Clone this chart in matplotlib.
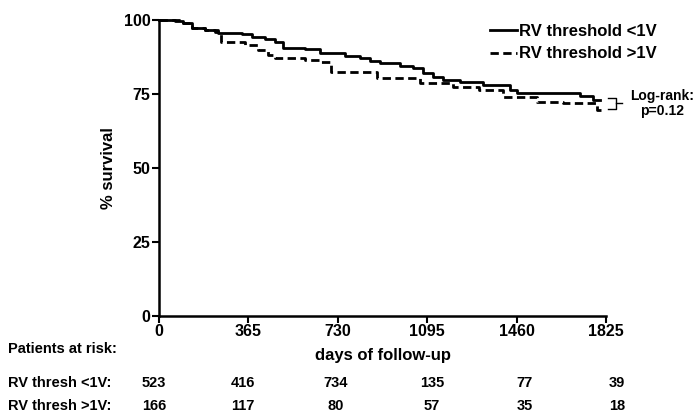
import matplotlib
matplotlib.use('Agg')
import matplotlib.pyplot as plt

plt.rcParams['font.family'] = ['Liberation Sans Narrow', 'Liberation Sans', 'DejaVu Sans']
plt.rcParams['font.weight'] = 'bold'

# Kaplan-Meier steps (day, % survival)
days_lt1 = [0, 65, 98, 135, 188, 241, 339, 380, 433, 474, 506, 596, 657, 759, 821, 862,
            902, 984, 1037, 1078, 1119, 1160, 1229, 1323, 1433, 1462, 1719, 1772, 1800]
surv_lt1 = [100, 99.8, 99, 97.3, 96.5, 95.7, 95.3, 94.4, 93.5, 92.7, 90.5, 90.2, 88.9, 88, 87.2, 86.3,
            85.5, 84.6, 83.8, 82, 80.8, 79.7, 79, 78, 76.4, 75.3, 74.3, 73, 73]
days_gt1 = [0, 98, 135, 188, 229, 253, 351, 404, 445, 474, 596, 657, 702, 890, 1066,
            1200, 1307, 1405, 1543, 1650, 1788, 1805]
surv_gt1 = [100, 99, 97.3, 96.5, 96, 92.7, 91.6, 89.9, 88.2, 87.2, 86.5, 85.8, 82.4, 80.4, 78.7,
            77.4, 76.4, 74, 72.3, 72, 69.6, 69.6]

xticks = [0, 365, 730, 1095, 1460, 1825]
yticks = [0, 25, 50, 75, 100]
risk_lt1 = [523, 416, 734, 135, 77, 39]
risk_gt1 = [166, 117, 80, 57, 35, 18]
risk_x = [-20, 343, 722, 1115, 1494, 1870]

fig = plt.figure(figsize=(6.98, 4.12), dpi=100)
ax = fig.add_axes([0.2278, 0.233, 0.6404, 0.7185])

ax.plot(days_lt1, surv_lt1, drawstyle='steps-post', color='black', lw=2, clip_on=False,
        label='RV threshold <1V')
ax.plot(days_gt1, surv_gt1, drawstyle='steps-post', color='black', lw=2, ls=(0, (3, 1.6)),
        clip_on=False, label='RV threshold >1V')

ax.set_xlim(0, 1825)
ax.set_ylim(0, 100)
ax.set_xticks(xticks)
ax.set_yticks(yticks)
for s in ['top', 'right']:
    ax.spines[s].set_visible(False)
for s in ['left', 'bottom']:
    ax.spines[s].set_linewidth(1.8)
ax.tick_params(direction='out', length=5, width=1.5, labelsize=11.5, pad=1)
for lab in ax.get_xticklabels() + ax.get_yticklabels():
    lab.set_fontweight('bold')

ax.set_xlabel('days of follow-up', fontsize=12, fontweight='bold', labelpad=6)
ax.set_ylabel('% survival', fontsize=12, fontweight='bold', labelpad=6)

leg = ax.legend(loc='upper left', bbox_to_anchor=(0.722, 1.015), frameon=False,
                prop={'weight': 'bold', 'size': 12}, handlelength=1.6, handletextpad=0.15,
                labelspacing=0.45, borderaxespad=0.1)

# log-rank bracket
ax.plot([1835, 1865, 1865, 1835], [73.6, 73.6, 69.8, 69.8], color='black', lw=1, clip_on=False)
ax.plot([1865, 1890], [72, 72], color='black', lw=1, clip_on=False)
ax.text(2054, 74.3, 'Log-rank:', ha='center', va='center', fontsize=10, fontweight='bold')
ax.text(2054, 69.4, 'p=0.12', ha='center', va='center', fontsize=10, fontweight='bold')

# patients at risk table
fig.text(8 / 698, 1 - 349 / 412, 'Patients at risk:', ha='left', va='center', fontsize=10.5, fontweight='bold')
fig.text(8 / 698, 1 - 383 / 412, 'RV thresh <1V:', ha='left', va='center', fontsize=10.5, fontweight='bold')
fig.text(8 / 698, 1 - 406 / 412, 'RV thresh >1V:', ha='left', va='center', fontsize=10.5, fontweight='bold')
trans = ax.get_xaxis_transform()
for xp, a, b in zip(risk_x, risk_lt1, risk_gt1):
    ax.text(xp, -67 / 296, str(a), transform=trans, ha='center', va='center', fontsize=10.5, fontweight='bold')
    ax.text(xp, -90 / 296, str(b), transform=trans, ha='center', va='center', fontsize=10.5, fontweight='bold')

fig.savefig('out.png', dpi=100)
